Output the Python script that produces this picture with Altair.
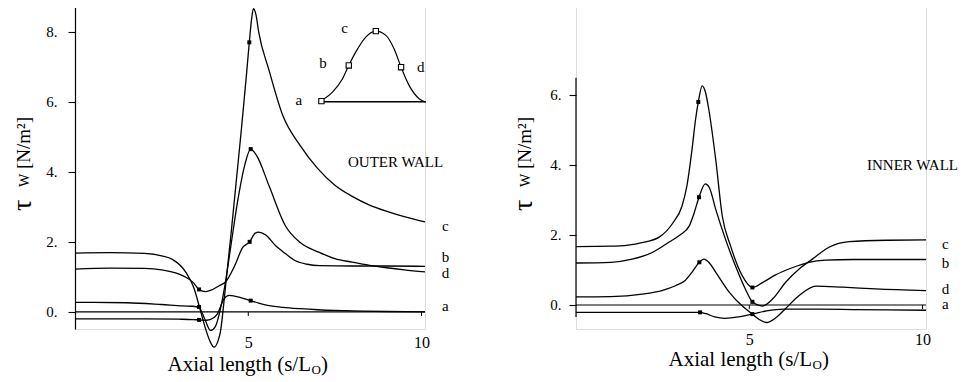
import altair as alt
import pandas as pd

FONT = "Liberation Serif"

# ---------------- OUTER WALL (left panel) ----------------
OUT_C_X = [0, 1, 2, 2.5, 2.81, 3.2, 3.44, 3.58, 3.77, 3.9, 4.01, 4.12, 4.2, 4.3, 4.4, 4.5, 4.65, 4.8, 4.95, 5.03, 5.1, 5.15, 5.22, 5.3, 5.6, 6.0, 6.5, 7.0, 7.5, 8.0, 8.5, 9.0, 9.5, 10.1]
OUT_C_Y = [1.68, 1.69, 1.67, 1.6, 1.5, 1.13, 0.66, 0.18, -0.49, -0.85, -1.01, -0.85, -0.55, 0.3, 1.26, 2.2, 3.7, 5.2, 6.8, 7.7, 8.4, 8.66, 8.5, 8.0, 6.9, 5.6, 4.75, 4.1, 3.62, 3.3, 3.05, 2.87, 2.72, 2.57]

OUT_B_X = [0, 1.5, 2.5, 3.1, 3.4, 3.58, 3.75, 3.91, 4.05, 4.2, 4.35, 4.5, 4.7, 4.9, 5.07, 5.25, 5.6, 6.07, 6.5, 7.05, 7.5, 8, 8.5, 9, 9.5, 10.1]
OUT_B_Y = [0.27, 0.26, 0.21, 0.17, 0.16, 0.12, -0.22, -0.53, -0.42, 0.1, 0.9, 1.9, 3.2, 4.2, 4.65, 4.45, 3.6, 2.46, 1.98, 1.7, 1.52, 1.42, 1.33, 1.26, 1.2, 1.14]

OUT_D_X = [0, 1, 2, 2.5, 3.0, 3.2, 3.4, 3.58, 3.77, 3.95, 4.15, 4.35, 4.6, 4.84, 5.04, 5.2, 5.3, 5.5, 5.79, 6.0, 6.36, 6.7, 7.05, 8, 9, 10.1]
OUT_D_Y = [1.22, 1.25, 1.24, 1.2, 1.08, 0.99, 0.85, 0.64, 0.58, 0.63, 0.74, 0.86, 1.3, 1.84, 2.0, 2.25, 2.28, 2.2, 1.89, 1.72, 1.46, 1.36, 1.32, 1.31, 1.31, 1.3]

OUT_A_X = [0, 1, 2, 3, 3.4, 3.58, 3.8, 4.0, 4.1, 4.3, 4.45, 4.6, 4.8, 5.07, 5.3, 5.6, 6.0, 6.5, 7, 7.5, 8, 9, 10.1]
OUT_A_Y = [-0.2, -0.2, -0.2, -0.21, -0.22, -0.23, -0.24, -0.17, -0.07, 0.37, 0.47, 0.45, 0.4, 0.32, 0.25, 0.18, 0.13, 0.09, 0.06, 0.04, 0.03, 0.01, 0.0]

OUT_MK_X = [3.58, 3.58, 3.58, 5.03, 5.07, 5.04, 5.07]
OUT_MK_Y = [0.64, 0.14, -0.23, 7.7, 4.65, 2.0, 0.32]

OUT_LAB = ["c", "b", "d", "a"]
OUT_LAB_X = [10.69, 10.69, 10.69, 10.69]
OUT_LAB_Y = [2.46, 1.57, 1.11, 0.17]

# inset: flow waveform with instants a-d
INSET_X = [7.11, 7.43, 7.72, 7.9, 8.1, 8.39, 8.68, 8.97, 9.21, 9.41, 9.64, 9.93, 10.12]
INSET_Y = [6.04, 6.28, 6.66, 7.04, 7.42, 7.85, 8.02, 7.9, 7.51, 6.99, 6.47, 6.09, 5.99]
INSET_MK_X = [7.11, 7.9, 8.68, 9.41]
INSET_MK_Y = [6.02, 7.04, 8.02, 6.99]
INSET_LAB = ["a", "b", "c", "d"]
INSET_LAB_X = [6.46, 7.16, 7.78, 9.98]
INSET_LAB_Y = [6.04, 7.1, 8.1, 7.01]

# ---------------- INNER WALL (right panel) ----------------
IN_B_X = [0, 1, 1.5, 1.9, 2.4, 2.8, 3.06, 3.2, 3.35, 3.45, 3.53, 3.64, 3.73, 3.83, 4.03, 4.22, 4.46, 4.8, 5.09, 5.38, 5.76, 6.2, 6.72, 7.2, 8, 10.1]
IN_B_Y = [1.67, 1.68, 1.71, 1.78, 1.94, 2.35, 2.83, 3.4, 4.46, 5.3, 5.8, 6.26, 6.1, 5.6, 4.17, 2.55, 1.69, 0.83, 0.5, 0.64, 0.86, 1.05, 1.22, 1.28, 1.3, 1.3]

IN_C_X = [0, 1, 1.62, 2.2, 2.69, 3.0, 3.27, 3.4, 3.55, 3.73, 3.85, 4.03, 4.31, 4.6, 4.89, 5.09, 5.38, 5.7, 6.05, 6.44, 6.82, 7.3, 7.88, 9, 10.1]
IN_C_Y = [1.2, 1.22, 1.31, 1.5, 1.8, 2.0, 2.26, 2.6, 3.08, 3.46, 3.35, 2.74, 1.89, 1.12, 0.45, 0.09, -0.03, 0.2, 0.65, 1.03, 1.31, 1.65, 1.81, 1.85, 1.86]

IN_D_X = [0, 1, 1.91, 2.5, 2.87, 3.15, 3.35, 3.56, 3.69, 3.85, 4.03, 4.42, 4.8, 5.09, 5.3, 5.5, 5.75, 6.03, 6.44, 6.92, 7.7, 8.65, 10.1]
IN_D_Y = [0.23, 0.24, 0.31, 0.42, 0.55, 0.7, 0.94, 1.22, 1.31, 1.2, 0.94, 0.37, -0.03, -0.26, -0.42, -0.5, -0.38, -0.12, 0.27, 0.54, 0.51, 0.46, 0.41]

IN_A_X = [0, 2, 3.3, 3.58, 3.75, 4.0, 4.3, 4.7, 5.09, 5.5, 6.0, 7, 8, 10.1]
IN_A_Y = [-0.21, -0.21, -0.21, -0.21, -0.25, -0.34, -0.38, -0.34, -0.26, -0.17, -0.12, -0.12, -0.13, -0.15]

IN_MK_X = [3.53, 3.55, 3.56, 3.58, 5.09, 5.09, 5.09]
IN_MK_Y = [5.8, 3.08, 1.22, -0.21, 0.5, 0.09, -0.26]

IN_LAB = ["c", "b", "d", "a"]
IN_LAB_X = [10.66, 10.66, 10.66, 10.66]
IN_LAB_Y = [1.74, 1.2, 0.46, 0.04]

X_TICKS = [5, 10]
X_END = 10.1


def long_df(series):
    rows = []
    for name, (xs, ys) in series.items():
        for x, y in zip(xs, ys):
            rows.append({"series": name, "x": x, "y": y})
    return pd.DataFrame(rows)


def one(text):
    return pd.DataFrame({"t": [text]})


def panel(curves, mk_x, mk_y, lab, lab_x, lab_y, wall, wall_xy, ydom, yticks,
          own_axis_line, ax_lo, ax_hi, xtitle_y, xlab_pad, ylab_pad, inset=None):
    xs = alt.Scale(domain=[0, X_END], nice=False, zero=False)
    ys = alt.Scale(domain=ydom, nice=False, zero=False)
    xaxis = alt.Axis(values=X_TICKS, domain=False, ticks=False, grid=False,
                     labelFont=FONT, labelFontSize=16, labelColor="black",
                     labelPadding=xlab_pad, title=None)
    yaxis = alt.Axis(values=yticks, domain=not own_axis_line, grid=False,
                     labelExpr="datum.label + '.'", labelFont=FONT,
                     labelFontSize=15, labelColor="black", labelPadding=ylab_pad,
                     tickSize=7, tickColor="black", tickWidth=1.1,
                     domainColor="black", domainWidth=1.2, title=None)
    X = alt.X("x:Q", scale=xs, axis=xaxis, title=None)
    Y = alt.Y("y:Q", scale=ys, axis=yaxis, title=None)

    layers = []
    lines = alt.Chart(long_df(curves)).mark_line(
        interpolate="monotone", color="black", strokeWidth=1.3
    ).encode(x=X, y=Y, detail="series:N")
    layers.append(lines)

    zero = alt.Chart(pd.DataFrame({"x": [0], "x2": [X_END], "y": [0]})).mark_rule(
        color="black", strokeWidth=1.2).encode(x=X, x2="x2:Q", y=Y)
    layers.append(zero)

    ticks = alt.Chart(pd.DataFrame({"x": X_TICKS, "y": [0, 0], "y2": [-0.12, -0.12]})).mark_rule(
        color="black", strokeWidth=1).encode(x=X, y=Y, y2="y2:Q")
    layers.append(ticks)

    if own_axis_line:
        axl = alt.Chart(pd.DataFrame({"x": [0], "y": [ax_lo], "y2": [ax_hi]})).mark_rule(
            color="black", strokeWidth=1.2).encode(x=X, y=Y, y2="y2:Q")
        layers.append(axl)

    marks = alt.Chart(pd.DataFrame({"x": mk_x, "y": mk_y})).mark_square(
        size=16, color="black", filled=True, opacity=1).encode(x=X, y=Y)
    layers.append(marks)

    labs = alt.Chart(pd.DataFrame({"x": lab_x, "y": lab_y, "t": lab})).mark_text(
        font=FONT, fontSize=15, color="black", align="center", baseline="middle"
    ).encode(x=X, y=Y, text="t:N")
    layers.append(labs)

    wt = alt.Chart(pd.DataFrame({"x": [wall_xy[0]], "y": [wall_xy[1]], "t": [wall]})).mark_text(
        font=FONT, fontSize=15, color="black", align="center", baseline="middle"
    ).encode(x=X, y=Y, text="t:N")
    layers.append(wt)

    if inset is not None:
        ix, iy, mx, my, il, ilx, ily = inset
        wave = alt.Chart(pd.DataFrame({"x": ix, "y": iy})).mark_line(
            interpolate="monotone", color="black", strokeWidth=1.2).encode(x=X, y=Y)
        base = alt.Chart(pd.DataFrame({"x": [ix[0]], "x2": [ix[-1]], "y": [6.0]})).mark_rule(
            color="black", strokeWidth=1.5).encode(x=X, x2="x2:Q", y=Y)
        imk = alt.Chart(pd.DataFrame({"x": mx, "y": my})).mark_square(
            size=28, filled=True, fill="white", stroke="black", strokeWidth=1.1, opacity=1
        ).encode(x=X, y=Y)
        ilab = alt.Chart(pd.DataFrame({"x": ilx, "y": ily, "t": il})).mark_text(
            font=FONT, fontSize=15, color="black", align="center", baseline="middle"
        ).encode(x=X, y=Y, text="t:N")
        layers += [wave, base, imk, ilab]

    # y title: tau_W [N/m^2]
    def ytxt(t, size, x, y):
        return alt.Chart(one(t)).mark_text(
            font=FONT, fontSize=size, color="black", angle=270, align="left",
            baseline="alphabetic").encode(x=alt.value(x), y=alt.value(y), text="t:N")
    layers += [ytxt("τ", 28, -44.5, 204), ytxt("W", 14, -46, 180), ytxt("[N/m²]", 19, -45, 162)]

    # x title: Axial length (s/L_O)
    def xtxt(t, size, x, y, align):
        return alt.Chart(one(t)).mark_text(
            font=FONT, fontSize=size, color="black", align=align,
            baseline="alphabetic").encode(x=alt.value(x), y=alt.value(y), text="t:N")
    layers += [xtxt("Axial length (s/L", 21, 236, xtitle_y, "right"),
               xtxt("O", 13, 236.5, xtitle_y + 3, "left"),
               xtxt(")", 21, 246, xtitle_y, "left")]

    return alt.layer(*layers).properties(width=350, height=322)


left = panel(
    {"c": (OUT_C_X, OUT_C_Y), "b": (OUT_B_X, OUT_B_Y),
     "d": (OUT_D_X, OUT_D_Y), "a": (OUT_A_X, OUT_A_Y)},
    OUT_MK_X, OUT_MK_Y, OUT_LAB, OUT_LAB_X, OUT_LAB_Y,
    "OUTER WALL", (9.25, 4.29), [-0.49, 8.71], [0, 2, 4, 6, 8],
    False, None, None, 364, 5, 11,
    inset=(INSET_X, INSET_Y, INSET_MK_X, INSET_MK_Y, INSET_LAB, INSET_LAB_X, INSET_LAB_Y),
)

right = panel(
    {"b": (IN_B_X, IN_B_Y), "c": (IN_C_X, IN_C_Y),
     "d": (IN_D_X, IN_D_Y), "a": (IN_A_X, IN_A_Y)},
    IN_MK_X, IN_MK_Y, IN_LAB, IN_LAB_X, IN_LAB_Y,
    "INNER WALL", (9.71, 4.0), [-0.686, 8.514], [0, 2, 4, 6],
    True, -0.34, 6.49, 359, 2, 8,
)

chart = alt.HConcatChart(hconcat=[left, right], spacing=151, bounds="flush").properties(
    padding={"left": 0, "top": -3, "right": 0, "bottom": 0}
).configure_view(stroke=None).configure(background="white", font=FONT)

chart.save("out.html", embed_options={"renderer": "svg", "actions": False})
